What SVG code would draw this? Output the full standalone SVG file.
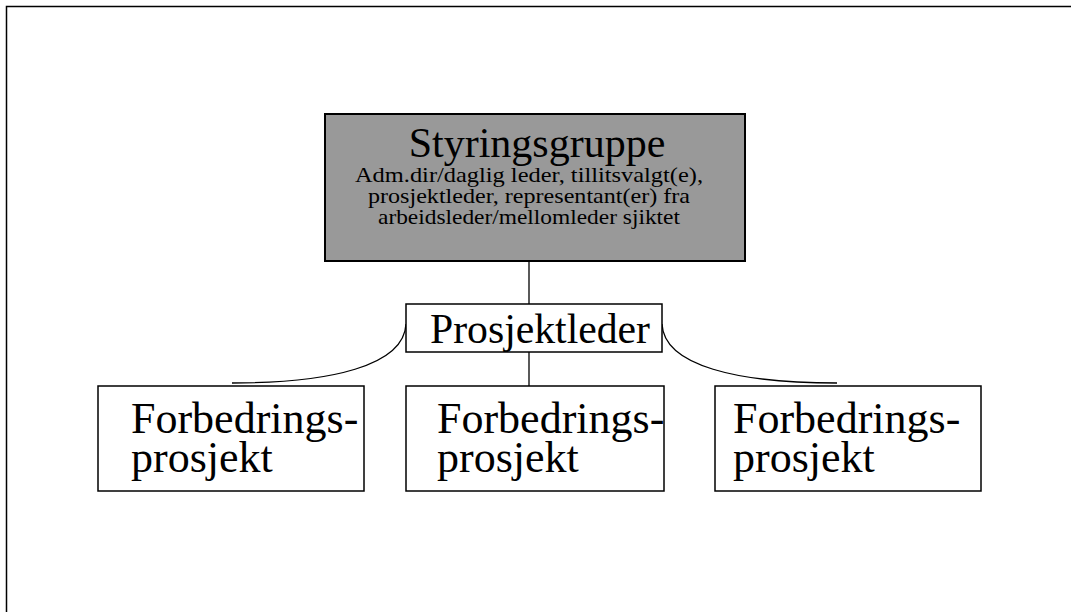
<svg xmlns="http://www.w3.org/2000/svg" width="1071" height="612" viewBox="0 0 1071 612">
<style>
.box{fill:#ffffff;stroke:#000;stroke-width:1.5}
.grey{fill:#999999;stroke:#000;stroke-width:2}
.con{fill:none;stroke:#000;stroke-width:1.3}
text{font-family:"Liberation Serif","Times New Roman",serif;fill:#000}
.big{font-size:42px}
.fb{font-size:44px}
.sub{font-size:22px}
</style>
<rect x="0" y="0" width="1071" height="612" fill="#ffffff"/>
<path d="M6.5,612 V6.5 H1071" fill="none" stroke="#000" stroke-width="1.5"/>
<g id="connectors">
<line class="con" x1="529" y1="261" x2="529" y2="304"/>
<line class="con" x1="529" y1="352" x2="529" y2="386"/>
<path class="con" d="M406,324 C404,366 330,383 232,383"/>
<path class="con" d="M662,324 C664,366 738,383 837,383"/>
</g>
<g id="styringsgruppe">
<rect class="grey" x="325" y="114" width="420" height="147"/>
<text class="big" x="537" y="157" text-anchor="middle">Styringsgruppe</text>
<text class="sub" x="529" y="182" text-anchor="middle" textLength="348" lengthAdjust="spacingAndGlyphs">Adm.dir/daglig leder,  tillitsvalgt(e),</text>
<text class="sub" x="529" y="203" text-anchor="middle" textLength="322" lengthAdjust="spacingAndGlyphs">prosjektleder, representant(er) fra</text>
<text class="sub" x="529" y="224" text-anchor="middle" textLength="302" lengthAdjust="spacingAndGlyphs">arbeidsleder/mellomleder sjiktet</text>
</g>
<g id="prosjektleder">
<rect class="box" x="406" y="304" width="256" height="48"/>
<text class="big" x="430" y="343" textLength="220" lengthAdjust="spacingAndGlyphs">Prosjektleder</text>
</g>
<g id="forbedring1">
<rect class="box" x="98" y="386" width="266" height="105"/>
<text class="fb" x="131" y="433">Forbedrings-</text>
<text class="fb" x="131" y="472">prosjekt</text>
</g>
<g id="forbedring2">
<rect class="box" x="406" y="386" width="258" height="105"/>
<text class="fb" x="437" y="433">Forbedrings-</text>
<text class="fb" x="437" y="472">prosjekt</text>
</g>
<g id="forbedring3">
<rect class="box" x="715" y="386" width="266" height="105"/>
<text class="fb" x="733" y="433">Forbedrings-</text>
<text class="fb" x="733" y="472">prosjekt</text>
</g>
</svg>
